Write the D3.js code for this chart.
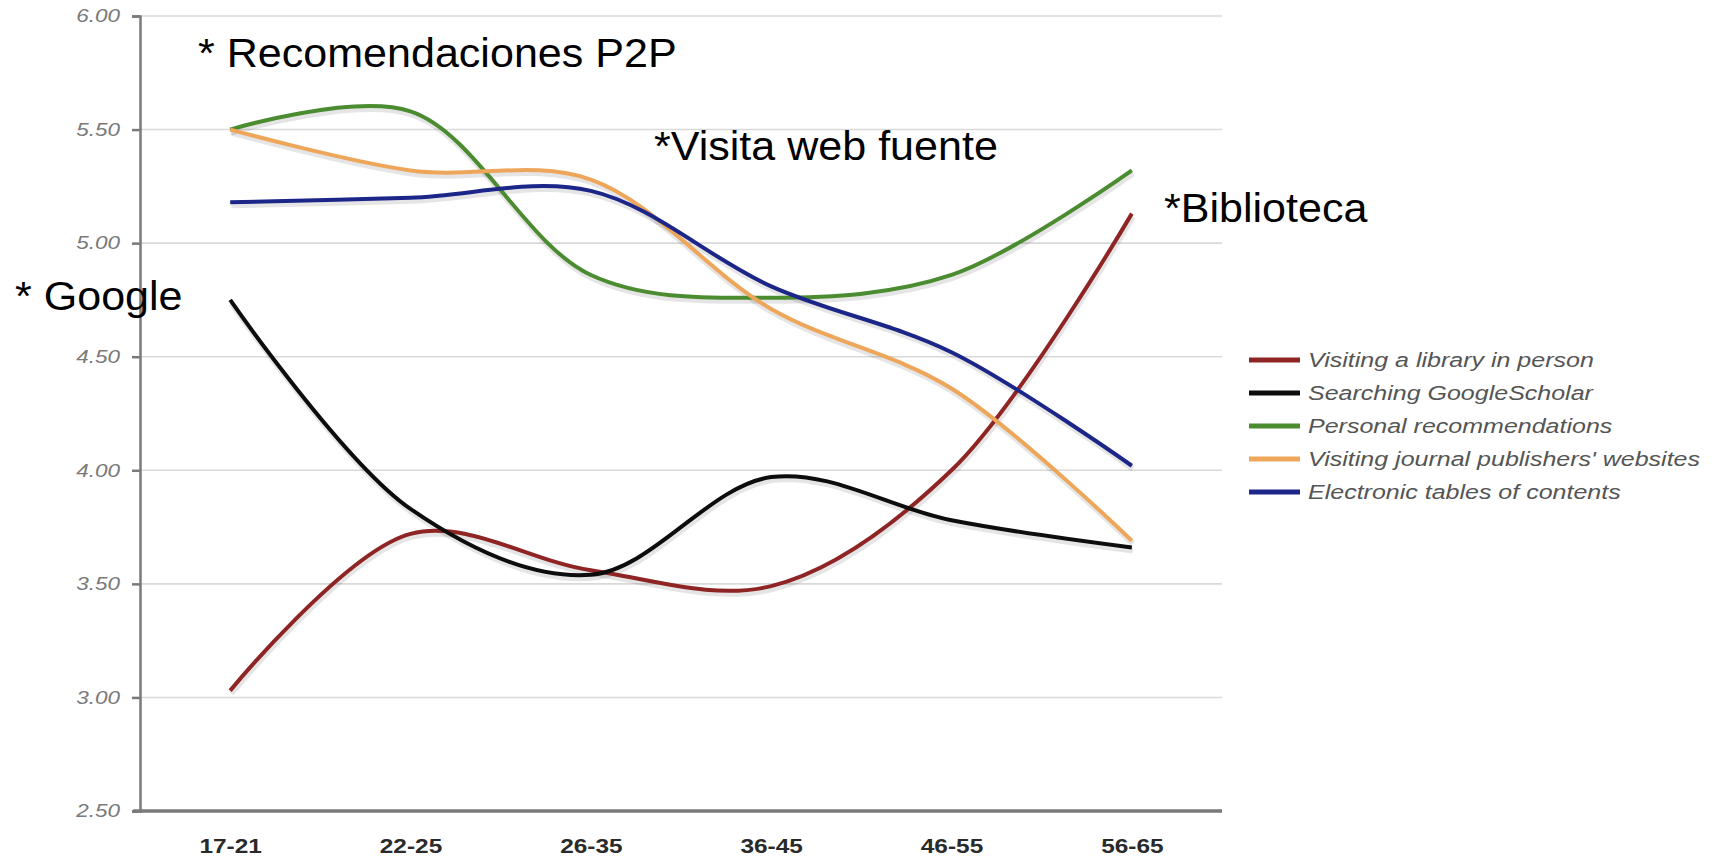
<!DOCTYPE html>
<html>
<head>
<meta charset="utf-8">
<script src="https://cdn.jsdelivr.net/npm/d3@7"></script>
<style>
  html, body { margin: 0; padding: 0; background: #fff; }
  svg { display: block; }
</style>
</head>
<body>
<svg id="chart" width="1718" height="858"></svg>
<script>
// ---- data ----
const categories = ["17-21", "22-25", "26-35", "36-45", "46-55", "56-65"];
const seriesNames = [
  "Visiting a library in person",
  "Searching GoogleScholar",
  "Personal recommendations",
  "Visiting journal publishers' websites",
  "Electronic tables of contents"
];
const library      = [3.03, 3.72, 3.56, 3.49, 4.00, 5.13];
const googleScholar = [4.75, 3.83, 3.54, 3.97, 3.78, 3.66];
const personal     = [5.50, 5.58, 4.86, 4.76, 4.86, 5.32];
const publishers   = [5.50, 5.32, 5.28, 4.71, 4.36, 3.69];
const electronic   = [5.18, 5.20, 5.23, 4.81, 4.52, 4.02];
const seriesColors = ["#8e2424", "#0d0d0d", "#4c8c30", "#eea75a", "#1c2688"];
const yTicks = [2.5, 3.0, 3.5, 4.0, 4.5, 5.0, 5.5, 6.0];
const annotations = [
  { text: "* Recomendaciones P2P", x: 198, y: 67 },
  { text: "*Visita web fuente", x: 654, y: 160 },
  { text: "*Biblioteca", x: 1164, y: 222 },
  { text: "* Google", x: 15, y: 310 }
];

const seriesValues = [library, googleScholar, personal, publishers, electronic];

// ---- layout ----
const svg = d3.select("#chart");
const mLeft = 140, mRight = 1222, mTop = 16, mBottom = 811;

const x = d3.scalePoint().domain(categories).range([mLeft, mRight]).padding(0.5);
const y = d3.scaleLinear().domain([2.5, 6.0]).range([mBottom, mTop]);

function stretch(sel, k) {
  sel.each(function () {
    const len = this.getComputedTextLength();
    this.setAttribute("textLength", len * k);
    this.setAttribute("lengthAdjust", "spacingAndGlyphs");
  });
}

// gridlines
svg.append("g")
  .selectAll("line")
  .data(yTicks.filter(d => d > 2.5))
  .join("line")
  .attr("x1", mLeft).attr("x2", mRight)
  .attr("y1", d => y(d)).attr("y2", d => y(d))
  .attr("stroke", "#d9d9d9").attr("stroke-width", 1.6);

// y axis
const yAxis = svg.append("g")
  .attr("transform", `translate(${mLeft},0)`)
  .call(d3.axisLeft(y).tickValues(yTicks).tickFormat(d3.format(".2f")).tickSize(8).tickPadding(12));
yAxis.select(".domain").attr("stroke", "#7a7a7a").attr("stroke-width", 2.5);
yAxis.selectAll(".tick line").attr("stroke", "#7a7a7a").attr("stroke-width", 2.5);
yAxis.selectAll(".tick text")
  .attr("font-family", "Liberation Sans, Arial, sans-serif")
  .attr("font-style", "italic")
  .attr("font-size", 18)
  .attr("fill", "#7a7a7a")
  .call(stretch, 1.25);

// x axis
const xAxis = svg.append("g")
  .attr("transform", `translate(0,${mBottom})`)
  .call(d3.axisBottom(x).tickSize(0).tickPadding(28));
xAxis.select(".domain").attr("stroke", "#7a7a7a").attr("stroke-width", 3.5)
  .attr("d", `M${mLeft - 7},0H${mRight}`);
xAxis.selectAll(".tick text")
  .attr("font-family", "Liberation Sans, Arial, sans-serif")
  .attr("font-weight", "bold")
  .attr("font-size", 20)
  .attr("fill", "#2a2a2a")
  .call(stretch, 1.22);

// lines
const line = d3.line()
  .x((d, i) => x(categories[i]))
  .y(d => y(d))
  .curve(d3.curveCatmullRom.alpha(0.5));

const shadow = svg.append("g").attr("transform", "translate(1,3)");
shadow.selectAll("path")
  .data(seriesValues)
  .join("path")
  .attr("d", line)
  .attr("fill", "none")
  .attr("stroke", "#000")
  .attr("stroke-opacity", 0.10)
  .attr("stroke-width", 6);

svg.append("g")
  .selectAll("path")
  .data(seriesValues)
  .join("path")
  .attr("d", line)
  .attr("fill", "none")
  .attr("stroke", (d, i) => seriesColors[i])
  .attr("stroke-width", 4)
  .attr("stroke-linecap", "butt");

// legend
const legendY = d3.scalePoint().domain(seriesNames).range([360, 492]);
const legend = svg.append("g");
legend.selectAll("line")
  .data(seriesNames)
  .join("line")
  .attr("x1", 1249).attr("x2", 1300)
  .attr("y1", d => legendY(d)).attr("y2", d => legendY(d))
  .attr("stroke", (d, i) => seriesColors[i])
  .attr("stroke-width", 5);
legend.selectAll("text")
  .data(seriesNames)
  .join("text")
  .attr("x", 1308)
  .attr("y", d => legendY(d))
  .attr("dy", "0.36em")
  .attr("font-family", "Liberation Sans, Arial, sans-serif")
  .attr("font-style", "italic")
  .attr("font-size", 20)
  .attr("fill", "#555")
  .text(d => d)
  .call(stretch, 1.25);

// annotations
svg.append("g")
  .selectAll("text")
  .data(annotations)
  .join("text")
  .attr("x", d => d.x)
  .attr("y", d => d.y)
  .attr("font-family", "Liberation Sans, Arial, sans-serif")
  .attr("font-size", 41)
  .attr("fill", "#000")
  .text(d => d.text)
  .call(stretch, 1.05);
</script>
</body>
</html>
